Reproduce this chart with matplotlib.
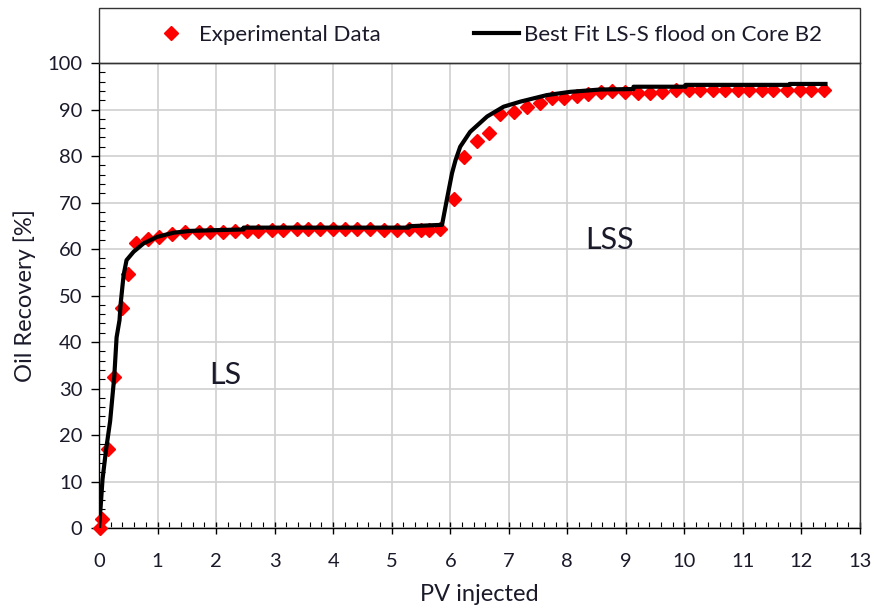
import matplotlib
matplotlib.use("Agg")
import matplotlib.pyplot as plt
from matplotlib.ticker import MultipleLocator
from matplotlib.patches import Rectangle

# experimental recovery points (PV injected, oil recovery %)
pv_exp = [0.02, 0.05, 0.15, 0.26, 0.40, 0.49, 0.63, 0.83, 1.03, 1.24, 1.47, 1.70,
          1.90, 2.11, 2.32, 2.53, 2.72, 2.96, 3.15, 3.38, 3.57, 3.78, 4.00, 4.20,
          4.40, 4.63, 4.86, 5.09, 5.30, 5.50, 5.63, 5.83, 6.06, 6.24, 6.46, 6.67,
          6.85, 7.09, 7.31, 7.53, 7.74, 7.95, 8.17, 8.36, 8.58, 8.77, 8.99, 9.21,
          9.42, 9.62, 9.85, 10.07, 10.27, 10.48, 10.70, 10.91, 11.11, 11.33, 11.52,
          11.76, 11.97, 12.17, 12.38]
rec_exp = [0.0, 1.9, 17.0, 32.4, 47.4, 54.6, 61.2, 62.2, 62.6, 63.2, 63.7, 63.6,
           63.6, 63.6, 63.8, 63.8, 63.9, 64.0, 64.1, 64.2, 64.2, 64.2, 64.2, 64.2,
           64.2, 64.2, 64.1, 64.1, 64.2, 64.0, 64.1, 64.2, 70.7, 79.7, 83.3, 84.9,
           89.0, 89.5, 90.6, 91.3, 92.4, 92.4, 92.9, 93.3, 93.8, 94.0, 93.8, 93.6,
           93.6, 93.8, 94.1, 94.2, 94.3, 94.2, 94.2, 94.2, 94.2, 94.2, 94.2, 94.3,
           94.3, 94.3, 94.3]

# best fit curve
pv_fit = [0.0, 0.03, 0.06, 0.12, 0.19, 0.26, 0.30, 0.35, 0.37, 0.42, 0.47, 0.59,
          0.76, 0.99, 1.27, 1.56, 2.12, 2.47, 2.47, 5.29, 5.29, 5.86, 5.94, 6.03,
          6.09, 6.17, 6.34, 6.63, 6.91, 7.20, 7.65, 8.05, 8.56, 9.13, 9.13, 10.02,
          10.02, 11.80, 11.80, 12.41]
rec_fit = [0.0, 5.0, 10.5, 16.8, 23.0, 32.5, 41.0, 44.7, 48.3, 54.4, 57.6, 59.4,
           61.2, 62.6, 63.5, 63.9, 64.1, 64.2, 64.6, 64.6, 64.9, 65.2, 70.5, 76.3,
           79.1, 82.0, 85.2, 88.5, 90.6, 91.7, 93.1, 93.8, 94.3, 94.4, 94.9, 94.9,
           95.3, 95.3, 95.5, 95.5]

plt.rcParams['font.family'] = ['Lato', 'DejaVu Sans']
txt_col = '#1a1a2a'

fig = plt.figure(figsize=(8.74, 6.10), dpi=100)
ax = fig.add_axes([0.1133, 0.1344, 0.8707, 0.7623])

ax.plot(pv_exp, rec_exp, linestyle='none', marker='D', markersize=7.5,
        color='#ff0000', label='Experimental Data', zorder=3, clip_on=False)
ax.plot(pv_fit, rec_fit, color='black', linewidth=3,
        label='Best Fit LS-S flood on Core B2', zorder=4)

ax.set_xlim(0, 13)
ax.set_ylim(0, 100)
ax.xaxis.set_major_locator(MultipleLocator(1))
ax.xaxis.set_minor_locator(MultipleLocator(0.2))
ax.yaxis.set_major_locator(MultipleLocator(10))
ax.yaxis.set_minor_locator(MultipleLocator(2))
ax.tick_params(axis='x', which='major', direction='inout', length=8, width=1,
               labelsize=14.5, labelcolor=txt_col, pad=14)
ax.tick_params(axis='y', which='major', direction='out', length=6, width=1,
               labelsize=14.5, labelcolor=txt_col, pad=6)
ax.tick_params(which='minor', direction='in', length=4, width=0.8)
ax.grid(True, which='major', color='#d0d0d0', linewidth=1.2)
ax.set_axisbelow(True)
for s in ax.spines.values():
    s.set_color('#333333')
    s.set_linewidth(1)
ax.spines['left'].set_color('black')
ax.spines['bottom'].set_color('black')

ax.set_xlabel('PV injected', fontsize=17, color=txt_col, labelpad=10)
ax.set_ylabel('Oil Recovery [%]', fontsize=17, color=txt_col, labelpad=8)

ax.text(2.15, 33, 'LS', fontsize=22, color=txt_col, ha='center', va='center')
ax.text(8.73, 62, 'LSS', fontsize=22, color=txt_col, ha='center', va='center')

# legend box sits on top of the plot area
fig.add_artist(Rectangle((0.1133, 0.8967), 0.8707, 0.0902, transform=fig.transFigure,
                         fill=False, edgecolor='#333333', linewidth=1))
leg = fig.legend(loc='center left', bbox_to_anchor=(138 / 874, 0.9426), ncol=2,
                 frameon=False, borderpad=0, fontsize=16, columnspacing=4.2,
                 handlelength=2.0, handletextpad=0.25)
for t in leg.get_texts():
    t.set_color(txt_col)

fig.savefig('out.png', dpi=100)
